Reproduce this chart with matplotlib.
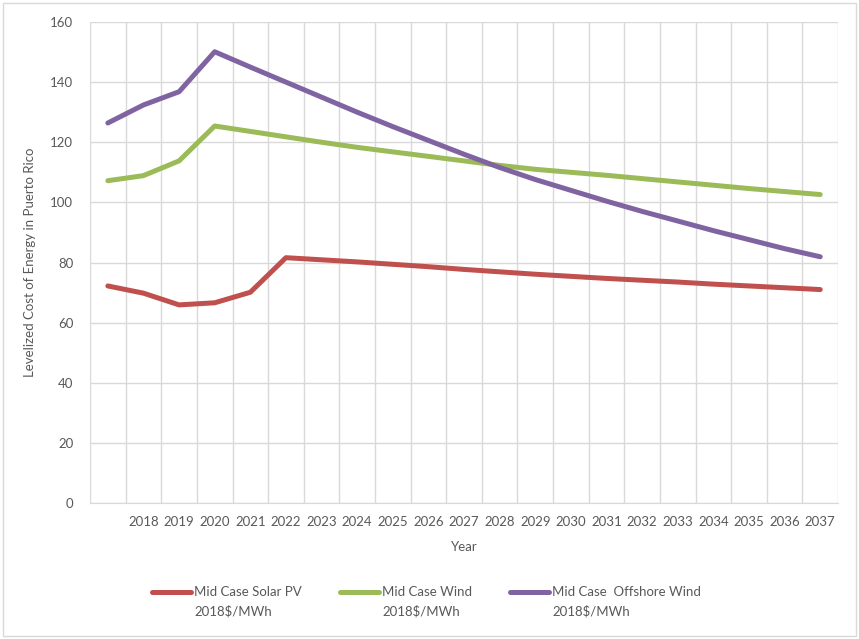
import matplotlib.pyplot as plt
from matplotlib.lines import Line2D
from matplotlib.patches import Rectangle

plt.rcParams['font.family'] = ['Lato', 'DejaVu Sans']

# Category axis: first category has no label in the source chart
years = list(range(2017, 2038))
year_labels = [''] + [str(y) for y in years[1:]]

solar_pv = [72.2, 69.8, 65.9, 66.6, 70.1, 81.6, 80.9, 80.2, 79.4, 78.6,
            77.7, 76.9, 76.1, 75.4, 74.7, 74.1, 73.5, 72.8, 72.2, 71.6, 71.0]
wind = [107.2, 108.9, 113.8, 125.4, 123.6, 121.8, 120.0, 118.3, 116.8, 115.3,
        113.8, 112.3, 111.0, 110.0, 109.0, 107.9, 106.8, 105.7, 104.6, 103.6, 102.6]
offshore_wind = [126.4, 132.4, 136.8, 150.1, 145.0, 140.0, 135.0, 130.0, 125.2, 120.6,
                 116.0, 111.6, 107.6, 104.0, 100.4, 97.0, 93.8, 90.6, 87.6, 84.6, 81.9]

series_names = ['Mid Case Solar PV', 'Mid Case Wind', 'Mid Case  Offshore Wind']
unit_label = '2018\\$/MWh'
colors = ['#C0504D', '#9BBB59', '#8064A2']

text_color = '#595959'
grid_color = '#D9D9D9'

fig = plt.figure(figsize=(8.59, 6.39), dpi=100)
ax = fig.add_axes([0.1048, 0.2128, 0.8708, 0.7528])

x = list(range(len(years)))
for vals, c in zip([solar_pv, wind, offshore_wind], colors):
    ax.plot(x, vals, color=c, linewidth=3.6, solid_capstyle='round',
            solid_joinstyle='round', zorder=3)

ax.set_xlim(-0.5, len(years) - 0.5)
ax.set_ylim(0, 160)
ax.set_yticks(range(0, 161, 20))
ax.set_xticks(x)
ax.set_xticklabels(year_labels)
# gridlines between categories
ax.set_xticks([i - 0.5 for i in range(len(years) + 1)], minor=True)
ax.grid(False)
ax.grid(axis='y', which='major', color=grid_color, linewidth=1)
ax.grid(axis='x', which='minor', color=grid_color, linewidth=1)
ax.tick_params(which='both', length=0)
ax.tick_params(axis='x', colors=text_color, labelsize=9.5, pad=9)
ax.tick_params(axis='y', colors=text_color, labelsize=9.5, pad=12)
for s in ['top', 'right', 'left']:
    ax.spines[s].set_visible(False)
ax.spines['bottom'].set_color(grid_color)
ax.set_axisbelow(True)

ax.set_xlabel('Year', color=text_color, fontsize=9.5, labelpad=10)
ax.set_ylabel('Levelized Cost of Energy in Puerto Rico', color=text_color,
              fontsize=9.5, labelpad=10)

# legend below the plot, handle aligned with the first text line
legend_x = [0.177, 0.396, 0.594]
for lx, name, c in zip(legend_x, series_names, colors):
    fig.add_artist(Line2D([lx, lx + 0.045], [0.0735, 0.0735],
                          transform=fig.transFigure, color=c, linewidth=3.6,
                          solid_capstyle='round'))
    fig.text(lx + 0.049, 0.0735, name, color=text_color, fontsize=9.5, va='center')
    fig.text(lx + 0.049, 0.0435, unit_label, color=text_color, fontsize=9.5, va='center')

# light border round the whole chart area
fig.add_artist(Rectangle((0.003, 0.004), 0.994, 0.992, transform=fig.transFigure,
                         fill=False, edgecolor=grid_color, linewidth=1))

fig.savefig('out.png', dpi=100)
